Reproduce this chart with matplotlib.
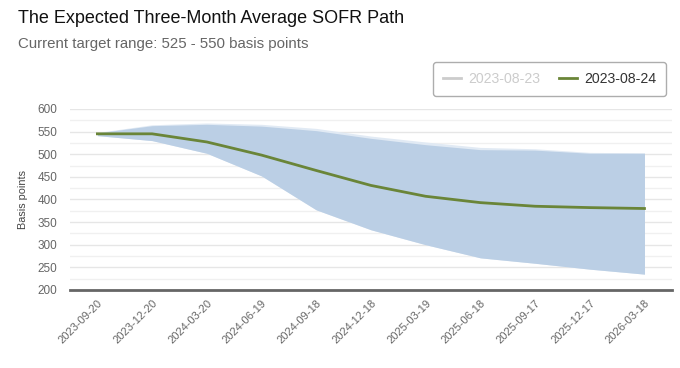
import numpy as np
import matplotlib.pyplot as plt
from matplotlib.lines import Line2D

dates = ["2023-09-20", "2023-12-20", "2024-03-20", "2024-06-19", "2024-09-18",
         "2024-12-18", "2025-03-19", "2025-06-18", "2025-09-17", "2025-12-17",
         "2026-03-18"]

# 2023-08-24 path and range
path_0824 = [545, 545, 527, 498, 464, 431, 407, 393, 385, 382, 380]
upper_0824 = [547, 563, 566, 562, 552, 535, 521, 510, 509, 502, 502]
lower_0824 = [541, 530, 502, 452, 377, 333, 300, 271, 259, 246, 235]

# 2023-08-23 range (faded)
upper_0823 = [548, 565, 569, 566, 557, 540, 527, 515, 512, 504, 503]
lower_0823 = [541, 530, 502, 452, 377, 333, 300, 271, 259, 246, 235]

plt.rcParams['font.family'] = ['Liberation Sans', 'DejaVu Sans']

fig = plt.figure(figsize=(6.8, 3.68), dpi=100)
ax = fig.add_axes([0.103, 0.212, 0.885, 0.492])

x = np.arange(len(dates))

ax.fill_between(x, lower_0823, upper_0823, color='#e1eaf4', lw=0, zorder=1)
ax.fill_between(x, lower_0824, upper_0824, color='#bbcfe5', lw=0, zorder=2)
ax.plot(x, path_0824, color='#6a8538', lw=2, zorder=3)

ax.set_xlim(-0.5, len(dates) - 0.5)
ax.set_ylim(200, 600)
ax.set_yticks(np.arange(200, 601, 50))
ax.set_yticks(np.arange(225, 600, 50), minor=True)
ax.grid(axis='y', which='major', color='#e6e6e6', lw=1, zorder=0)
ax.grid(axis='y', which='minor', color='#f0f0f0', lw=1, zorder=0)
ax.set_axisbelow(True)

ax.set_xticks(x)
ax.set_xticklabels(dates, rotation=45, ha='right', rotation_mode='anchor',
                   fontsize=8, color='#666666')
ax.tick_params(axis='x', length=0, pad=6)
ax.tick_params(axis='y', which='both', length=0, labelsize=8.5,
               labelcolor='#666666', pad=9)

for s in ['top', 'right', 'left']:
    ax.spines[s].set_visible(False)
ax.spines['bottom'].set_color('#666666')
ax.spines['bottom'].set_linewidth(2)

ax.set_ylabel("Basis points", fontsize=7.8, color='#444444', labelpad=7)

fig.text(0.026, 0.95, "The Expected Three-Month Average SOFR Path",
         fontsize=13, color='#111111', va='center')
fig.text(0.026, 0.88, "Current target range: 525 - 550 basis points",
         fontsize=10.8, color='#666666', va='center')

handles = [Line2D([], [], color='#cccccc', lw=2),
           Line2D([], [], color='#6a8538', lw=2)]
leg = fig.legend(handles, ["2023-08-23", "2023-08-24"], ncol=2,
                 loc='center right', bbox_to_anchor=(0.99, 0.785),
                 fontsize=10.2, frameon=True, fancybox=True,
                 edgecolor='#999999', handlelength=1.3, columnspacing=1.3,
                 borderpad=0.7, handletextpad=0.5)
leg.get_frame().set_linewidth(1)
leg.get_texts()[0].set_color('#cccccc')
leg.get_texts()[1].set_color('#333333')

fig.savefig("out.png", dpi=100)
